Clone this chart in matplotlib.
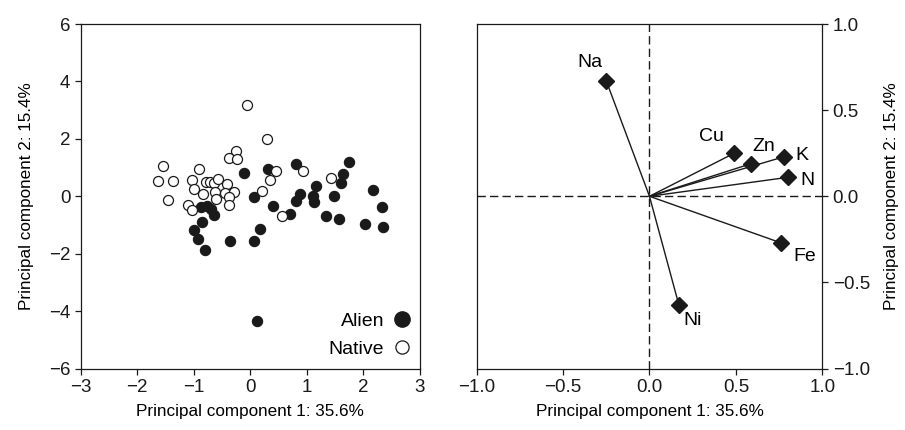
import matplotlib.pyplot as plt
from matplotlib.lines import Line2D

plt.rcParams['font.family'] = ['Liberation Sans', 'DejaVu Sans']
plt.rcParams['font.size'] = 12

# PCA scores (left panel)
alien_pc1 = [-0.11, 0.06, -0.87, -0.76, -0.69, -0.65, -0.85, -0.99, -0.93, -0.81,
             -0.36, 0.06, 0.17, 0.11, 0.32, 0.81, 0.40, 0.70, 0.87, 0.80,
             1.10, 1.13, 1.16, 1.48, 1.33, 1.56, 1.63, 1.61, 1.75, 2.17,
             2.32, 2.02, 2.35]
alien_pc2 = [0.80, -0.04, -0.38, -0.35, -0.46, -0.64, -0.89, -1.19, -1.49, -1.87,
             -1.56, -1.56, -1.14, -4.34, 0.94, 1.12, -0.34, -0.63, 0.08, -0.15,
             0.01, -0.20, 0.37, 0.00, -0.69, -0.78, 0.77, 0.45, 1.20, 0.22,
             -0.36, -0.97, -1.06]

native_pc1 = [-1.55, -1.63, -1.37, -1.46, -0.90, -1.04, -1.00, -1.10, -1.04, -0.78,
              -0.83, -0.06, -0.26, -0.38, -0.23, -0.72, -0.65, -0.57, -0.41, -0.63,
              -0.45, -0.61, -0.29, -0.38, -0.38, 0.29, 0.45, 0.34, 0.21, 0.93,
              1.43, 0.56]
native_pc2 = [1.05, 0.55, 0.55, -0.13, 0.95, 0.57, 0.24, -0.31, -0.48, 0.51,
              0.07, 3.18, 1.58, 1.35, 1.29, 0.51, 0.48, 0.60, 0.42, 0.15,
              0.11, -0.11, 0.16, -0.01, -0.31, 2.00, 0.89, 0.57, 0.17, 0.89,
              0.63, -0.67]

# variable loadings (right panel)
elements = ['Na', 'Cu', 'Zn', 'K', 'N', 'Fe', 'Ni']
load_pc1 = [-0.25, 0.49, 0.59, 0.78, 0.80, 0.76, 0.17]
load_pc2 = [0.67, 0.25, 0.19, 0.23, 0.11, -0.27, -0.63]

xlabel = 'Principal component 1: 35.6%'
ylabel = 'Principal component 2: 15.4%'

fig = plt.figure(figsize=(9.05, 4.3), dpi=100)

# ---- left: scores
ax1 = fig.add_axes([0.0892, 0.143, 0.3749, 0.801])
ax1.scatter(alien_pc1, alien_pc2, s=55, c='#1a1a1a', edgecolors='#1a1a1a',
            linewidths=0.8, zorder=3)
ax1.scatter(native_pc1, native_pc2, s=52, facecolors='white', edgecolors='#1a1a1a',
            linewidths=0.9, zorder=3)
ax1.set_xlim(-3, 3)
ax1.set_ylim(-6, 6)
ax1.set_xticks(range(-3, 4))
ax1.set_yticks(range(-6, 7, 2))
ax1.set_xlabel(xlabel, fontsize=12.3, labelpad=6)
ax1.set_ylabel(ylabel, fontsize=12.3, labelpad=11)

handles = [
    Line2D([], [], ls='none', marker='o', ms=11, mfc='#1a1a1a', mec='#1a1a1a'),
    Line2D([], [], ls='none', marker='o', ms=9.5, mfc='white', mec='#1a1a1a', mew=0.9),
]
ax1.legend(handles, ['Alien', 'Native'], loc='lower right', frameon=False,
           markerfirst=False, handlelength=0.8, handletextpad=0.5,
           labelspacing=0.55, borderaxespad=0.15, fontsize=14)

# ---- right: loadings
ax2 = fig.add_axes([0.5267, 0.143, 0.3819, 0.801])
ax2.axhline(0, color='#1a1a1a', ls=(0, (6, 3)), lw=1)
ax2.axvline(0, color='#1a1a1a', ls=(0, (6, 3)), lw=1)
for x, y in zip(load_pc1, load_pc2):
    ax2.plot([0, x], [0, y], color='#1a1a1a', lw=1)
ax2.plot(load_pc1, load_pc2, ls='none', marker='D', ms=8, color='#1a1a1a', zorder=4)

offsets = {'Na': (-12, 13), 'Cu': (-16, 12), 'Zn': (9, 12.5), 'K': (13, 0.5),
           'N': (14.5, -2), 'Fe': (17, -10), 'Ni': (10, -11.5)}
for name, x, y in zip(elements, load_pc1, load_pc2):
    ax2.annotate(name, (x, y), xytext=offsets[name], textcoords='offset points',
                 ha='center', va='center', fontsize=14)

ax2.set_xlim(-1, 1)
ax2.set_ylim(-1, 1)
ax2.set_xticks([-1, -0.5, 0, 0.5, 1])
ax2.set_yticks([-1, -0.5, 0, 0.5, 1])
ax2.xaxis.set_major_formatter('{x:.1f}')
ax2.yaxis.set_major_formatter('{x:.1f}')
ax2.yaxis.tick_right()
ax2.yaxis.set_label_position('right')
ax2.set_xlabel(xlabel, fontsize=12.3, labelpad=6)
ax2.set_ylabel(ylabel, fontsize=12.3, labelpad=10)

for ax in (ax1, ax2):
    ax.tick_params(direction='out', length=4, width=0.9, labelsize=13.5, colors='#1a1a1a')
    for sp in ax.spines.values():
        sp.set_linewidth(0.9)
        sp.set_color('#1a1a1a')

fig.savefig('out.png', dpi=100)
